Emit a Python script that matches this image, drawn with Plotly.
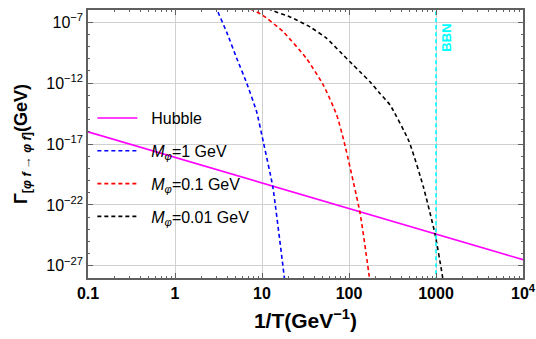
import numpy as np
import plotly.graph_objects as go

# 1/T grid (GeV^-1) and rates (GeV)
hubble_invT = [0.1, 1.0, 10.0, 100.0, 1000.0, 10000.0]
hubble_rate = [1.0e-16, 7.9e-19, 6.3e-21, 5.0e-23, 4.0e-25, 3.2e-27]

m1_invT = [2.5, 3.01, 3.93, 5.12, 6.67, 8.69, 10.35, 13.3, 18.0, 19.1]
m1_rate = [2.5e-5, 1.2e-6, 1.5e-8, 1.1e-10, 1.0e-12, 4.2e-15, 1.5e-17, 3.2e-21, 1.3e-28, 3.0e-30]

m01_invT = [6.31, 7.82, 10.2, 17.6, 32.6, 50.7, 72.1, 87.7, 134.0, 171.0, 182.0]
m01_rate = [2.5e-6, 1.0e-6, 3.7e-7, 1.6e-8, 1.0e-10, 6.9e-13, 2.5e-15, 1.6e-17, 2.1e-23, 1.3e-28, 3.0e-30]

m001_invT = [10.0, 12.9, 21.0, 35.6, 55.5, 78.9, 102.6, 133.7, 174.2, 227.0, 296.0, 490.0, 714.0, 975.0, 1194.0, 1260.0]
m001_rate = [2.5e-6, 9.5e-7, 2.7e-7, 4.1e-8, 4.6e-9, 3.7e-10, 5.6e-11, 8.5e-12, 1.3e-12, 1.4e-13, 1.6e-14, 1.6e-17, 3.2e-21, 4.0e-25, 1.0e-28, 3.0e-30]

bbn_invT = 1000.0

x_tickvals = [0.1, 1, 10, 100, 1000, 10000]
x_ticktext = ["0.1", "1", "10", "100", "1000", "10<sup>4</sup>"]
y_exponents = [-7, -12, -17, -22, -27]

FONT = "Liberation Sans, Arial, Helvetica, sans-serif"
DASH = "4px,3px"

fig = go.Figure()

fig.add_trace(go.Scatter(x=hubble_invT, y=hubble_rate, mode="lines", name="  Hubble",
                         line=dict(color="#FF00FF", width=1.6), legendgroup="a"))
fig.add_trace(go.Scatter(x=m1_invT, y=m1_rate, mode="lines",
                         name="  <i>M</i><sub><i>φ</i></sub>=1 GeV", legendgroup="b",
                         line=dict(color="#0000FF", width=1.6, dash=DASH, shape="spline", smoothing=0.4)))
fig.add_trace(go.Scatter(x=m01_invT, y=m01_rate, mode="lines",
                         name="  <i>M</i><sub><i>φ</i></sub>=0.1 GeV", legendgroup="c",
                         line=dict(color="#FF0000", width=1.6, dash=DASH, shape="spline", smoothing=0.5)))
fig.add_trace(go.Scatter(x=m001_invT, y=m001_rate, mode="lines",
                         name="  <i>M</i><sub><i>φ</i></sub>=0.01 GeV", legendgroup="d",
                         line=dict(color="#000000", width=1.6, dash=DASH, shape="spline", smoothing=0.5)))

# BBN marker
fig.add_trace(go.Scatter(x=[bbn_invT, bbn_invT], y=[1e-30, 1e-4], mode="lines", showlegend=False,
                         line=dict(color="#00FFFF", width=1.6, dash=DASH)))
fig.add_annotation(x=np.log10(bbn_invT), xref="x", y=0.895, yref="paper", text="<b>BBN</b>",
                   textangle=-90, showarrow=False, xanchor="left", yanchor="middle", xshift=1,
                   font=dict(color="#00FFFF", size=13, family=FONT))

x_minor = [m * 10.0 ** k for k in range(-1, 4) for m in range(2, 10)]
y_minor = [10.0 ** k for k in range(-28, -5)]

frame = "#606060"
fig.update_xaxes(type="log", range=[-1, 4], tickmode="array", tickvals=x_tickvals,
                 ticktext=["<b>%s</b>" % t for t in x_ticktext],
                 tickfont=dict(size=16, color="black", family=FONT), automargin=False,
                 ticks="inside", ticklen=5, tickcolor=frame, showline=True, linecolor=frame,
                 linewidth=1.5, mirror="ticks", showgrid=True, gridcolor="#d0d0d0", gridwidth=1,
                 zeroline=False,
                 minor=dict(tickmode="array", tickvals=x_minor, ticks="inside", ticklen=2.5,
                            tickcolor=frame, showgrid=False),
                 title=dict(text="<b>1/T(GeV<sup>−1</sup>)</b>", font=dict(size=21, color="black", family=FONT),
                            standoff=12))
fig.update_yaxes(type="log", range=[-28, -6], tickmode="array",
                 tickvals=[10.0 ** e for e in y_exponents],
                 ticktext=["10<sup>−%d</sup>" % (-e) for e in y_exponents],
                 tickfont=dict(size=16, color="black", family=FONT), automargin=False,
                 ticks="inside", ticklen=5, tickcolor=frame, showline=True, linecolor=frame,
                 linewidth=1.5, mirror="ticks", showgrid=True, gridcolor="#d0d0d0", gridwidth=1,
                 zeroline=False,
                 minor=dict(tickmode="array", tickvals=y_minor, ticks="inside", ticklen=2.5,
                            tickcolor=frame, showgrid=False),
                 title=dict(text="<b>Γ<sub>[<i>φ f</i> → <i>φ f</i>]</sub>(GeV)</b>",
                            font=dict(size=18, color="black", family=FONT), standoff=14))

fig.update_layout(
    width=536, height=339,
    margin=dict(l=88, r=13, t=10, b=61, autoexpand=False),
    paper_bgcolor="white", plot_bgcolor="white",
    font=dict(family=FONT, color="black"),
    showlegend=True,
    legend=dict(x=0.01, y=0.66, xanchor="left", yanchor="top", bgcolor="rgba(0,0,0,0)",
                font=dict(size=16, color="black", family=FONT), tracegroupgap=9,
                itemwidth=40),
)

fig.write_html("out.html")
